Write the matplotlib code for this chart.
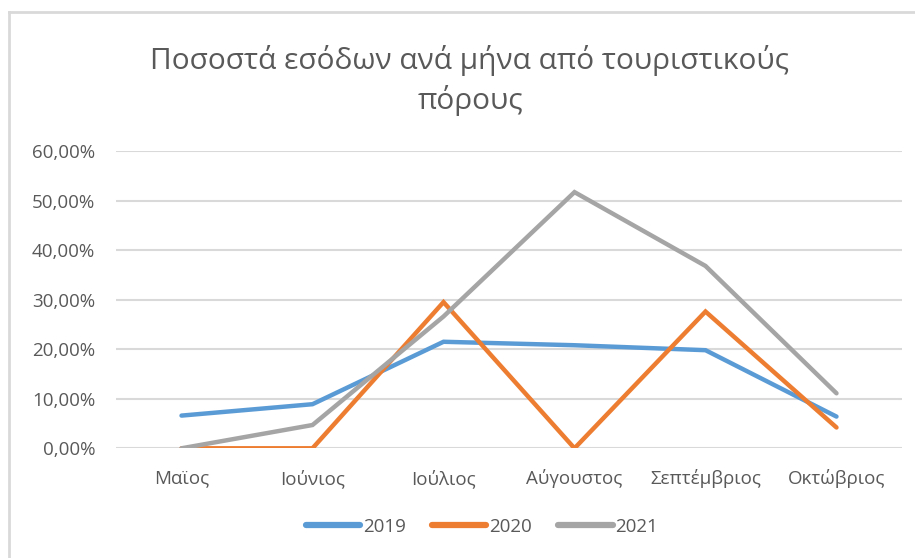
import numpy as np
import matplotlib.pyplot as plt
from matplotlib.lines import Line2D
from matplotlib.ticker import FuncFormatter

months = ['Μαϊος', 'Ιούνιος', 'Ιούλιος', 'Αύγουστος', 'Σεπτέμβριος', 'Οκτώβριος']
y2019 = [0.066, 0.089, 0.215, 0.208, 0.198, 0.064]
y2020 = [0.0, 0.0, 0.295, 0.0, 0.276, 0.042]
y2021 = [0.0, 0.047, 0.266, 0.517, 0.368, 0.111]
years = ['2019', '2020', '2021']
colors = ['#5B9BD5', '#ED7D31', '#A5A5A5']

plt.rcParams['font.family'] = ['Open Sans', 'DejaVu Sans']
txt = '#595959'

fig = plt.figure(figsize=(9.15, 5.58), dpi=100)
ax = fig.add_axes([116/915, 1-448.3/558, (902-116)/915, (448.3-151)/558])

x = np.arange(len(months))
for vals, c, lab in zip([y2019, y2020, y2021], colors, years):
    ax.plot(x, vals, color=c, lw=3.2, label=lab, solid_capstyle='round', solid_joinstyle='miter')

ax.set_xlim(-0.5, len(months)-0.5)
ax.set_ylim(0, 0.6)
ax.set_yticks(np.arange(0, 0.61, 0.1))
ax.yaxis.set_major_formatter(FuncFormatter(lambda v, p: f'{v*100:.2f}%'.replace('.', ',')))
ax.set_xticks(x)
ax.set_xticklabels(months)
ax.tick_params(length=0, colors=txt, labelsize=13.5)
ax.tick_params(axis='y', pad=15)
ax.tick_params(axis='x', pad=15)
ax.grid(axis='y', color='#D9D9D9', lw=1.5)
ax.set_axisbelow(True)
for s in ax.spines.values():
    s.set_visible(False)

fig.text(470/915, 1-60/558, 'Ποσοστά εσόδων ανά μήνα από τουριστικούς', ha='center', va='center',
         fontsize=21.5, color=txt)
fig.text(470/915, 1-101/558, 'πόρους', ha='center', va='center', fontsize=21.5, color=txt)

handles = [Line2D([], [], color=c, lw=4.5, solid_capstyle='round') for c in colors]
fig.legend(handles, years, loc='center', bbox_to_anchor=(482/915, 1-527/558), ncol=3, frameon=False,
           fontsize=13.5, labelcolor=txt, handlelength=2.9, handletextpad=0.15, columnspacing=1.4)

# chart-area border (left and top only visible)
fig.add_artist(Line2D([9/915, 9/915], [0, 1-12/558], color='#D9D9D9', lw=2, transform=fig.transFigure))
fig.add_artist(Line2D([9/915, 1], [1-12/558, 1-12/558], color='#D9D9D9', lw=2, transform=fig.transFigure))

fig.savefig('out.png', dpi=100)
